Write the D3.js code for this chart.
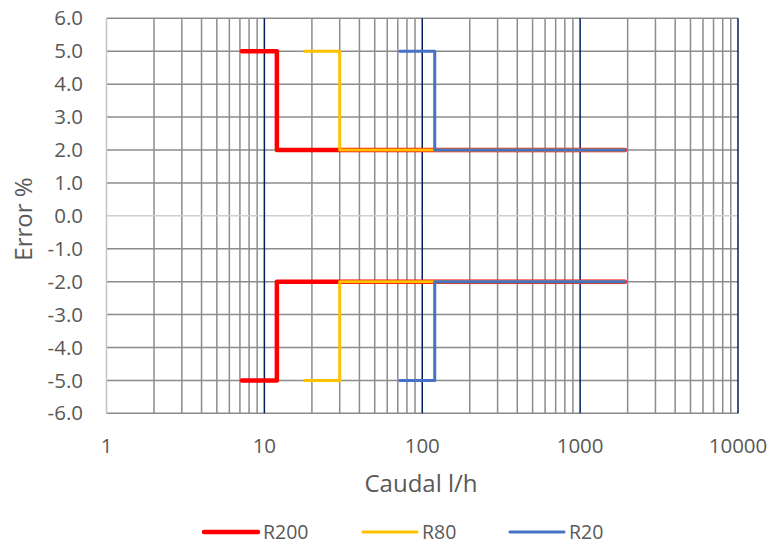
<!DOCTYPE html>
<html>
<head>
<meta charset="utf-8">
<script src="https://cdn.jsdelivr.net/npm/d3@7/dist/d3.min.js"></script>
<style>
  html, body { margin: 0; padding: 0; background: #fff; }
  svg text { font-family: "Open Sans", "Noto Sans", sans-serif; fill: #595959; }
</style>
</head>
<body>
<svg id="chart" width="770" height="545"></svg>
<script>
// Meter accuracy envelopes: flow (l/h) vs maximum permissible error (%)
const seriesNames = ["R200", "R80", "R20"];
const seriesColors = ["#FF0000", "#FFC000", "#4472C4"];
const seriesWidths = [4.5, 3, 3];

const r200Flow = [7.2, 12, 12, 1920];
const r80Flow = [18, 30, 30, 1920];
const r20Flow = [72, 120, 120, 1920];
const upperError = [5, 5, 2, 2];
const lowerError = [-5, -5, -2, -2];

const xTicks = [1, 10, 100, 1000, 10000];
const yTicks = [-6, -5, -4, -3, -2, -1, 0, 1, 2, 3, 4, 5, 6];

const flows = [r200Flow, r80Flow, r20Flow];

const svg = d3.select("#chart");
const margin = { left: 106.5, right: 32, top: 18.3, bottom: 131.7 };
const W = 770, H = 545;

const x = d3.scaleLog().domain([1, 10000]).range([margin.left, W - margin.right]);
const y = d3.scaleLinear().domain([-6, 6]).range([H - margin.bottom, margin.top]);

const grid = svg.append("g");

// minor vertical gridlines (2..9 in each decade)
const minor = [];
for (let d = 1; d < 10000; d *= 10) for (let k = 2; k <= 9; k++) minor.push(d * k);
grid.selectAll("line.minor").data(minor).join("line")
  .attr("x1", d => x(d)).attr("x2", d => x(d))
  .attr("y1", y(6)).attr("y2", y(-6))
  .attr("stroke", "#8c8c8c").attr("stroke-width", 1.5);

// horizontal gridlines
grid.selectAll("line.h").data(yTicks.filter(v => v !== 0)).join("line")
  .attr("x1", x(1)).attr("x2", x(10000))
  .attr("y1", d => y(d)).attr("y2", d => y(d))
  .attr("stroke", "#8c8c8c").attr("stroke-width", 1.5);

// horizontal axis line at zero
grid.append("line")
  .attr("x1", x(1)).attr("x2", x(10000))
  .attr("y1", y(0)).attr("y2", y(0))
  .attr("stroke", "#d0d0d0").attr("stroke-width", 1.5);

// vertical axis line at 1
grid.append("line")
  .attr("x1", x(1)).attr("x2", x(1))
  .attr("y1", y(6)).attr("y2", y(-6))
  .attr("stroke", "#c4c4c4").attr("stroke-width", 1.5);

// major decade gridlines
grid.selectAll("line.major").data(xTicks.slice(1)).join("line")
  .attr("x1", d => x(d)).attr("x2", d => x(d))
  .attr("y1", y(6)).attr("y2", y(-6))
  .attr("stroke", "#002060").attr("stroke-width", 1.5);

// axis tick labels
svg.append("g").selectAll("text").data(yTicks).join("text")
  .attr("x", 83).attr("y", d => y(d))
  .attr("dy", "0.35em").attr("text-anchor", "end")
  .style("font-size", "20.5px")
  .text(d => d.toFixed(1));

svg.append("g").selectAll("text").data(xTicks).join("text")
  .attr("x", d => x(d)).attr("y", 446)
  .attr("dy", "0.35em").attr("text-anchor", "middle")
  .style("font-size", "20.5px")
  .text(d => String(d));

// axis titles
svg.append("text")
  .attr("x", 421).attr("y", 484).attr("dy", "0.35em")
  .attr("text-anchor", "middle").style("font-size", "24px")
  .text("Caudal l/h");

svg.append("text")
  .attr("transform", `translate(24,219) rotate(-90)`)
  .attr("dy", "0.35em").attr("text-anchor", "middle").style("font-size", "24px")
  .text("Error %");

// error envelopes
const line = d3.line().x(d => x(d[0])).y(d => y(d[1]));
const plot = svg.append("g");
flows.forEach((f, i) => {
  [upperError, lowerError].forEach(e => {
    plot.append("path")
      .attr("d", line(f.map((q, j) => [q, e[j]])))
      .attr("fill", "none")
      .attr("stroke", seriesColors[i])
      .attr("stroke-width", seriesWidths[i])
      .attr("stroke-linejoin", "round")
      .attr("stroke-linecap", "round");
  });
});

// legend
const legendX = [204, 363, 510];
const legendY = 532;
const legend = svg.append("g");
seriesNames.forEach((name, i) => {
  legend.append("line")
    .attr("x1", legendX[i]).attr("x2", legendX[i] + 54)
    .attr("y1", legendY).attr("y2", legendY)
    .attr("stroke", seriesColors[i]).attr("stroke-width", seriesWidths[i])
    .attr("stroke-linecap", "round");
  legend.append("text")
    .attr("x", legendX[i] + 59).attr("y", legendY).attr("dy", "0.35em")
    .style("font-size", "19.5px")
    .text(name);
});
</script>
</body>
</html>
